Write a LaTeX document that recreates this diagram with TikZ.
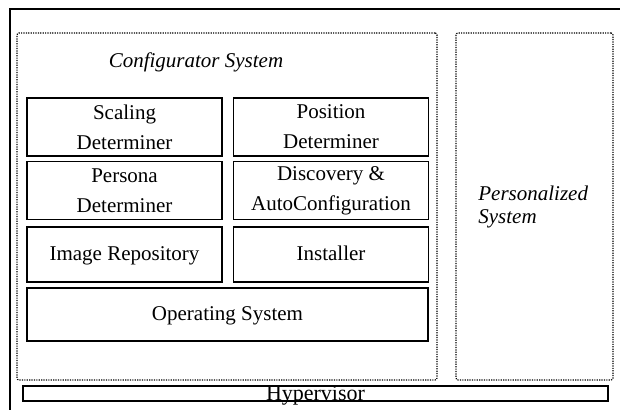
\documentclass[tikz,border=0pt]{standalone}
\usepackage{fontspec}
\setmainfont{Liberation Serif}

\begin{document}
\begin{tikzpicture}[
      x=0.5pt, y=-0.5pt,
      every node/.style={font=\fontsize{10.5}{15}\selectfont, inner sep=0pt},
      caixa/.style={draw, line width=0.55pt, rectangle, align=center,
        minimum width=97.5pt, minimum height=29pt},
      linha/.style={caixa, text height=8.8pt, text depth=2.3pt},
      pontilhado/.style={draw, line width=0.6pt, dash pattern=on 0.6pt off 0.6pt,
        rounded corners=1pt, rectangle, minimum height=173.5pt}
    ]
    \useasboundingbox (0,0) rectangle (620,410);
    % Moldura externa
    \draw[line width=0.6pt] (10,410) -- (10,9) -- (620,9);

    % Sistemas
    \node[pontilhado, minimum width=210pt] (config) at (227,206.5) {};
    \node[pontilhado, minimum width=78.5pt] (personal) at (534.5,206.5) {};
    \node[font=\fontsize{10.5}{12}\itshape] (configlabel) at (196,62) {Configurator System};
    \node[font=\fontsize{10.5}{11.5}\itshape, anchor=north west, align=left]
      (personallabel) at (478,186) {Personalized\\System};

    % Caixas internas
    \node[caixa] (scaling) at (124.5,127) {Scaling\\Determiner};
    \node[caixa] (position) at (331,127) {Position\\Determiner};
    \node[caixa] (persona) at (124.5,190.5) {Persona\\Determiner};
    \node[caixa] (discovery) at (331,190.5) {Discovery \&\\AutoConfiguration};
    \node[linha, minimum height=27.5pt] (image) at (124.5,254.5) {Image Repository};
    \node[linha, minimum height=27.5pt] (installer) at (331,254.5) {Installer};
    \node[linha, minimum width=200.5pt, minimum height=26.5pt] (os) at (227.5,314.5)
      {Operating System};

    % Hypervisor
    \node[caixa, minimum width=292.5pt, minimum height=7.5pt,
      label={[font=\fontsize{11}{12}\selectfont, yshift=-1pt]center:Hypervisor}]
      (hypervisor) at (315.5,393.5) {};
  \end{tikzpicture}
\end{document}
